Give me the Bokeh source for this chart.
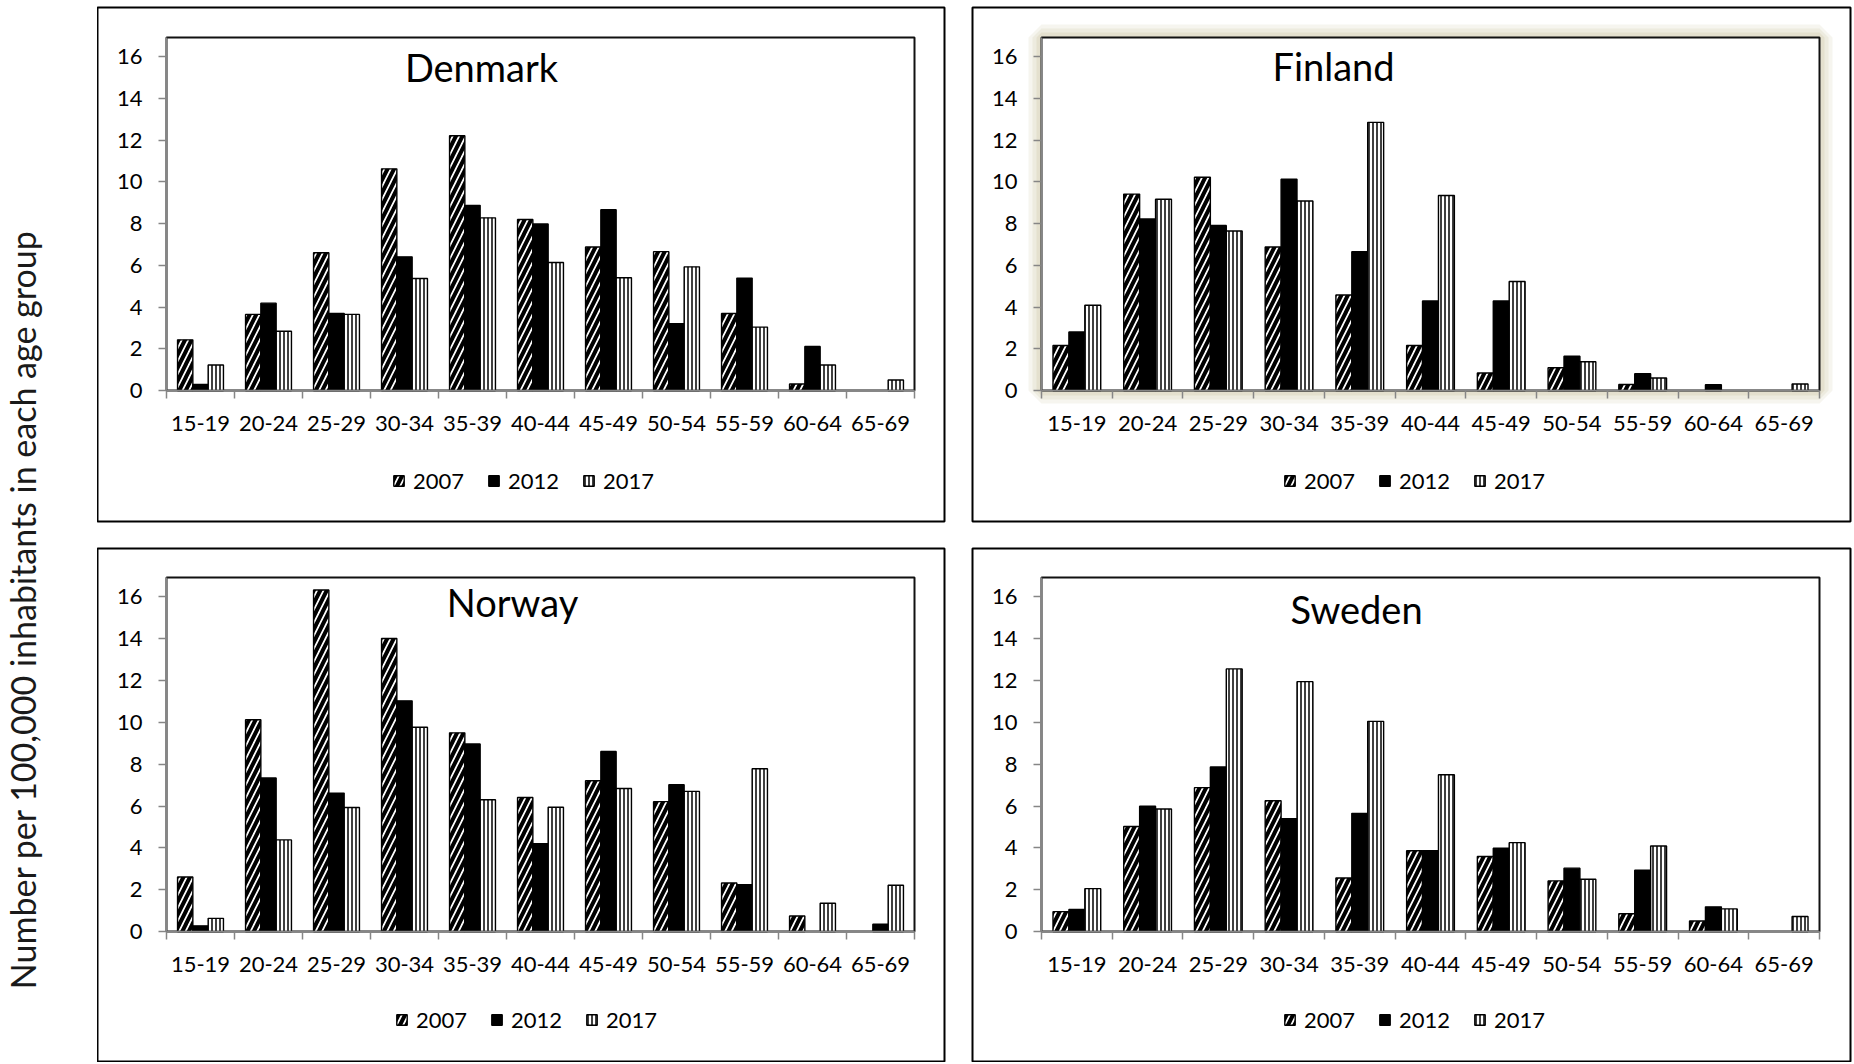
import math
from bokeh.plotting import figure
from bokeh.models import (ColumnDataSource, Range1d, FixedTicker, Legend, LegendItem, Label,
                          LinearAxis, BoxAnnotation)
from bokeh.layouts import row, column
from bokeh.transform import dodge
from bokeh.embed import file_html
from bokeh.resources import INLINE

age_groups = ["15-19", "20-24", "25-29", "30-34", "35-39", "40-44",
              "45-49", "50-54", "55-59", "60-64", "65-69"]
years = ["2007", "2012", "2017"]
y_ticks = [0, 2, 4, 6, 8, 10, 12, 14, 16]
y_axis_title = "Number per 100,000 inhabitants in each age group"

denmark_2007 = [2.43, 3.65, 6.61, 10.63, 12.22, 8.20, 6.88, 6.66, 3.69, 0.31, 0.0]
denmark_2012 = [0.29, 4.19, 3.70, 6.41, 8.88, 7.99, 8.67, 3.20, 5.39, 2.11, 0.0]
denmark_2017 = [1.22, 2.84, 3.65, 5.37, 8.28, 6.14, 5.41, 5.93, 3.04, 1.22, 0.50]

finland_2007 = [2.16, 9.42, 10.23, 6.88, 4.58, 2.16, 0.84, 1.09, 0.29, 0.0, 0.0]
finland_2012 = [2.81, 8.23, 7.91, 10.13, 6.66, 4.29, 4.29, 1.64, 0.80, 0.28, 0.0]
finland_2017 = [4.09, 9.17, 7.65, 9.09, 12.86, 9.35, 5.23, 1.38, 0.60, 0.0, 0.31]

norway_2007 = [2.61, 10.13, 16.33, 14.01, 9.50, 6.41, 7.21, 6.21, 2.32, 0.74, 0.0]
norway_2012 = [0.27, 7.34, 6.62, 11.03, 8.97, 4.20, 8.61, 7.02, 2.24, 0.0, 0.35]
norway_2017 = [0.63, 4.38, 5.93, 9.77, 6.30, 5.94, 6.84, 6.70, 7.78, 1.35, 2.21]

sweden_2007 = [0.95, 5.02, 6.88, 6.25, 2.56, 3.86, 3.59, 2.42, 0.85, 0.50, 0.0]
sweden_2012 = [1.05, 5.99, 7.87, 5.39, 5.65, 3.86, 3.98, 3.03, 2.93, 1.18, 0.0]
sweden_2017 = [2.05, 5.86, 12.56, 11.95, 10.05, 7.50, 4.25, 2.50, 4.09, 1.08, 0.72]

FONT = "Lato"
AXIS_GREY = "#868686"
BAR_W = 0.225
Y_TOP = 16.93


def outline_colors(vals):
    return ["black" if v > 0 else None for v in vals]


def make_panel(name, v07, v12, v17, fig, box, inner, title_pos, legend_pos, glow=False):
    ox, oy, W, H = fig          # figure placement on the page
    bx0, by0, bx1, by1 = box    # outer panel box (page px)
    L, R, T, B = inner          # plot area (page px)
    n = len(age_groups)
    kx = (R - L) / n
    ky = (B - T) / Y_TOP
    xr = Range1d(-(L - bx0) / kx, n + (bx1 - R) / kx)
    yr = Range1d(-(by1 - B) / ky, Y_TOP + (T - by0) / ky)

    xs = [i + 0.5 for i in range(n)]
    src = ColumnDataSource(dict(x=xs, age=age_groups, y2007=v07, y2012=v12, y2017=v17,
                                lc2007=outline_colors(v07), lc2012=outline_colors(v12),
                                lc2017=outline_colors(v17)))
    p = figure(width=W, height=H, x_range=xr, y_range=yr,
               x_axis_type=None, y_axis_type=None,
               output_backend="svg", toolbar_location=None,
               min_border_left=bx0 - ox, min_border_right=ox + W - bx1,
               min_border_top=by0 - oy, min_border_bottom=oy + H - by1)
    p.grid.visible = False
    p.background_fill_color = "white"
    p.border_fill_color = "white"
    p.outline_line_color = "black"
    p.outline_line_width = 2

    if glow:
        for lw, a in [(26, 0.18), (18, 0.22), (10, 0.3)]:
            p.add_layout(BoxAnnotation(left=0, right=n, bottom=0, top=Y_TOP,
                                       fill_color=None, line_color="#cfc7a8",
                                       line_alpha=a, line_width=lw, level="underlay"))
    p.add_layout(BoxAnnotation(left=0, right=n, bottom=0, top=Y_TOP,
                               fill_color="white", fill_alpha=1.0,
                               line_color="#111111", line_alpha=1.0, line_width=2,
                               level="underlay"))

    r07 = p.vbar(x=dodge("x", -BAR_W, range=p.x_range), top="y2007", width=BAR_W, source=src,
                 fill_color="white", line_color="lc2007", line_width=1.4,
                 hatch_pattern="/", hatch_color="black", hatch_weight=4, hatch_scale=13)
    r12 = p.vbar(x="x", top="y2012", width=BAR_W, source=src,
                 fill_color="black", line_color="lc2012", line_width=1.4)
    r17 = p.vbar(x=dodge("x", BAR_W, range=p.x_range), top="y2017", width=BAR_W, source=src,
                 fill_color="white", line_color="lc2017", line_width=1.4,
                 hatch_pattern="|", hatch_color="black", hatch_weight=1.5, hatch_scale=4)

    xa = LinearAxis(fixed_location=0, bounds=(0, n))
    xa.ticker = FixedTicker(ticks=xs, minor_ticks=list(range(n + 1)))
    xa.major_label_overrides = {x: lab for x, lab in zip(xs, age_groups)}
    xa.major_tick_line_color = None
    xa.major_tick_out = 0
    xa.major_tick_in = 0
    xa.minor_tick_out = 8
    xa.minor_tick_in = 0
    xa.minor_tick_line_color = AXIS_GREY
    xa.minor_tick_line_width = 1.5
    xa.axis_line_color = AXIS_GREY
    xa.axis_line_width = 1.5
    xa.major_label_standoff = 17
    xa.major_label_text_font = FONT
    xa.major_label_text_font_size = "22px"
    xa.major_label_text_color = "black"
    p.add_layout(xa, "below")

    ya = LinearAxis(fixed_location=0, bounds=(0, Y_TOP))
    ya.ticker = FixedTicker(ticks=y_ticks, minor_ticks=[])
    ya.major_tick_out = 8
    ya.major_tick_in = 0
    ya.major_tick_line_color = AXIS_GREY
    ya.major_tick_line_width = 1.5
    ya.axis_line_color = AXIS_GREY
    ya.axis_line_width = 1.5
    ya.major_label_standoff = 16
    ya.major_label_text_font = FONT
    ya.major_label_text_font_size = "22px"
    ya.major_label_text_color = "black"
    p.add_layout(ya, "left")

    tx, tyb = title_pos  # page px: title centre x, baseline y
    p.add_layout(Label(x=(tx - L) / kx, y=(B - tyb) / ky, text=name, text_align="center",
                       text_baseline="alphabetic", text_font=FONT,
                       text_font_size="38px", text_color="black"))

    lx, lcy = legend_pos  # page px: left of first patch, vertical centre
    lh = 26
    legend = Legend(items=[LegendItem(label=years[0], renderers=[r07]),
                           LegendItem(label=years[1], renderers=[r12]),
                           LegendItem(label=years[2], renderers=[r17])],
                    location=(lx - bx0, by1 - (lcy + lh / 2)), orientation="horizontal",
                    glyph_width=13, glyph_height=13, label_standoff=8, spacing=23,
                    padding=0, margin=0, border_line_color=None,
                    background_fill_alpha=0, label_height=13,
                    label_text_font=FONT, label_text_font_size="22px",
                    label_text_color="black")
    p.add_layout(legend)
    return p


dk = make_panel("Denmark", denmark_2007, denmark_2012, denmark_2017,
                fig=(97, 0, 861, 534), box=(97, 7, 944, 521), inner=(166, 914, 37, 390),
                title_pos=(481, 66), legend_pos=(392, 481))
fi = make_panel("Finland", finland_2007, finland_2012, finland_2017,
                fig=(958, 0, 894, 534), box=(972, 7, 1850, 521), inner=(1041, 1819, 37, 390),
                title_pos=(1333, 65), legend_pos=(1283, 481), glow=True)
no = make_panel("Norway", norway_2007, norway_2012, norway_2017,
                fig=(97, 534, 861, 528), box=(97, 548, 944, 1061), inner=(166, 914, 577, 931),
                title_pos=(512, 601), legend_pos=(395, 1020))
se = make_panel("Sweden", sweden_2007, sweden_2012, sweden_2017,
                fig=(958, 534, 894, 528), box=(972, 548, 1850, 1061), inner=(1041, 1819, 577, 931),
                title_pos=(1356, 608), legend_pos=(1283, 1020))

lab = figure(width=97, height=1062, x_range=Range1d(0, 97), y_range=Range1d(0, 1062),
             x_axis_type=None, y_axis_type=None, output_backend="svg",
             toolbar_location=None, min_border=0)
lab.grid.visible = False
lab.outline_line_color = None
lab.add_layout(Label(x=22, y=1062 - 609, text=y_axis_title, angle=math.pi / 2,
                     text_align="center", text_baseline="middle", text_font=FONT,
                     text_font_size="34px", text_color="#1a1a1a"))

layout = row(lab, column(row(dk, fi, spacing=0), row(no, se, spacing=0), spacing=0), spacing=0)

open("out.html", "w").write(file_html(layout, INLINE))
